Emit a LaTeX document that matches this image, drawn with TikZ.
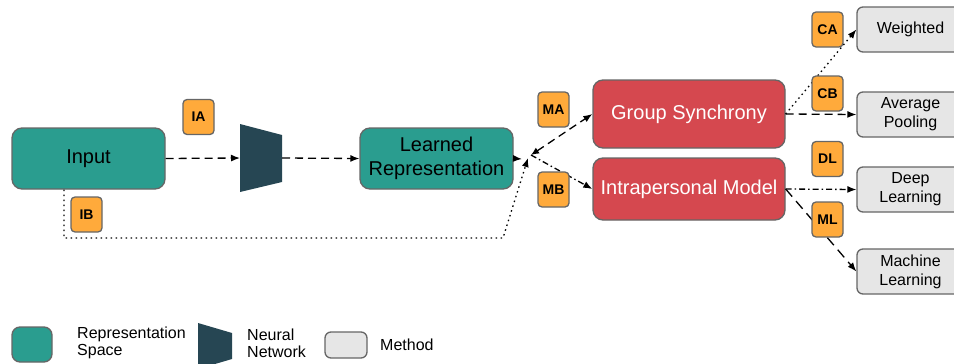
\documentclass[tikz,border=0pt]{standalone}
\usepackage{fontspec}
\setmainfont{Liberation Sans}
\usetikzlibrary{arrows.meta,calc}
\definecolor{tealc}{HTML}{2A9D8F}
\definecolor{nnc}{HTML}{264653}
\definecolor{redc}{HTML}{D5484F}
\definecolor{orc}{HTML}{FFAA3B}
\definecolor{grayc}{HTML}{E6E6E6}
\definecolor{bord}{HTML}{666666}
\begin{document}
\begin{tikzpicture}[x=1pt,y=-1pt,
  box/.style={draw=bord, line width=1.3pt, inner sep=0pt, align=center},
  rep/.style={box, fill=tealc, rounded corners=10pt, font=\fontsize{20}{24}\selectfont},
  grp/.style={box, fill=redc, rounded corners=10pt, text=white, font=\fontsize{20}{24}\selectfont},
  meth/.style={box, fill=grayc, rounded corners=6pt, minimum width=107pt, minimum height=45pt, font=\fontsize{16}{19}\selectfont},
  tag/.style={box, fill=orc, rounded corners=4pt, minimum width=31pt, minimum height=35pt, font=\bfseries\fontsize{14}{16}\selectfont},
  ghost/.style={inner sep=0pt, outer sep=0pt},
  conn/.style={line width=1.3pt, -{Latex[length=9pt,width=7pt]}},
  dsh/.style={dash pattern=on 8pt off 5pt},
  dshl/.style={dash pattern=on 10pt off 6pt},
  dtt/.style={dash pattern=on 1.5pt off 3.5pt},
  dshdot/.style={dash pattern=on 6pt off 3pt on 1.5pt off 3pt},
  legtext/.style={anchor=west, align=left, inner sep=0pt, font=\fontsize{16}{17}\selectfont}
]
\useasboundingbox (0,0) rectangle (954,364);

% main nodes
\node[rep, minimum width=153pt, minimum height=61pt] (in) at (88.5,158.5) {Input};
\node[ghost, minimum width=42pt, minimum height=68pt] (nn) at (261,158) {};
\fill[nnc] (nn.north west) -- ($(nn.north east)+(0,11)$) -- ($(nn.south east)+(0,-10)$) -- (nn.south west) -- cycle;
\node[rep, minimum width=153pt, minimum height=61pt] (lr) at (436.5,158.5) {Learned\\Representation};
\node[grp, minimum width=192pt, minimum height=68pt] (gs) at (689,114) {Group Synchrony};
\node[grp, minimum width=192pt, minimum height=62pt] (im) at (689,189) {Intrapersonal Model};
\node[meth] (w) at (910.5,29.5) {Weighted};
\node[meth] (ap) at (910.5,114.5) {Average\\Pooling};
\node[meth] (dl) at (910.5,189.5) {Deep\\Learning};
\node[meth] (ml) at (910.5,271.5) {Machine\\Learning};

% junction coordinates
\coordinate (j) at (531,155);
\coordinate (jb) at (528,158);
\coordinate (b1) at (64,238);
\coordinate (b2) at (503,238);
\coordinate (lrtip) at (522,159);

% connectors
\draw[conn, dsh] (in.east) -- (nn.west);
\draw[conn, dsh] (nn.east) -- (lr.west);
\draw[conn] (lr.east) -- (lrtip);
\draw[line width=1.3pt, dsh, {Latex[length=8pt,width=7pt]}-{Latex[length=9pt,width=7pt]}] (j) -- (gs.west);
\draw[conn, dshdot] (j) -- (im.west);
\draw[conn, dtt] (in.south -| b1) -- (b1) -- (b2) -- (jb);
\draw[conn, dtt] (gs.east) -- (w.west);
\draw[conn, dsh] (gs.east) -- (ap.west);
\draw[conn, dshdot] (im.east) -- (dl.west);
\draw[conn, dshl] (im.east) -- (ml.west);

% tags
\node[tag] (ia) at (198.5,117) {IA};
\node[tag] (ib) at (86.5,214.5) {IB};
\node[tag] (ma) at (553.5,109.5) {MA};
\node[tag] (mb) at (553.5,189.5) {MB};
\node[tag] (ca) at (827.5,29.5) {CA};
\node[tag] (cb) at (827.5,93.5) {CB};
\node[tag] (dlt) at (827.5,159) {DL};
\node[tag] (mlt) at (827.5,219.5) {ML};

% legend
\node[box, fill=tealc, rounded corners=8pt, minimum width=40pt, minimum height=35pt] (lg1) at (32,344.5) {};
\node[legtext] (lt1) at (77,343) {Representation\\Space};
\node[ghost, minimum width=34pt, minimum height=46pt] (lg2) at (215,346) {};
\fill[nnc] (lg2.north west) -- ($(lg2.north east)+(0,10)$) -- ($(lg2.south east)+(0,-10)$) -- (lg2.south west) -- cycle;
\node[legtext] (lt2) at (247,343) {Neural\\Network};
\node[box, fill=grayc, rounded corners=6pt, minimum width=42pt, minimum height=26pt] (lg3) at (346,345) {};
\node[legtext] (lt3) at (380,345) {Method};
\end{tikzpicture}
\end{document}
